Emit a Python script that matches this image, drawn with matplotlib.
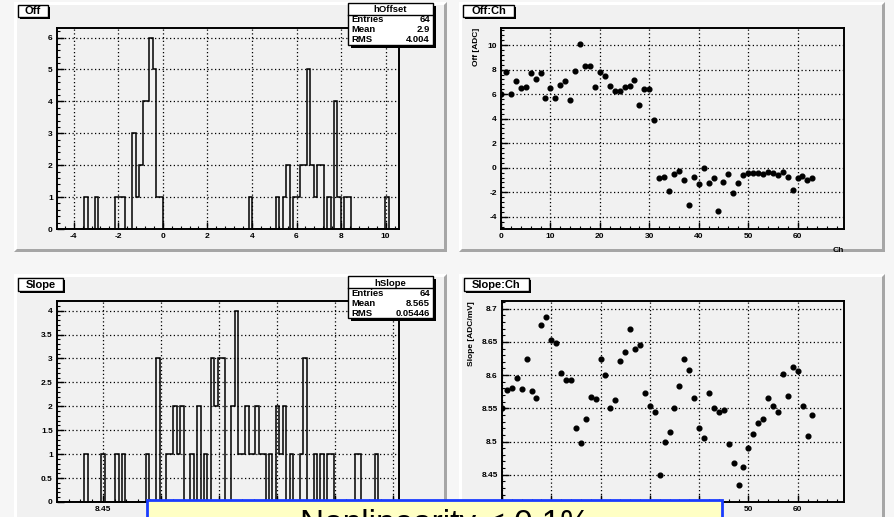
import numpy as np
import matplotlib.pyplot as plt
from matplotlib.patches import Rectangle, Polygon
from matplotlib.ticker import MultipleLocator, FuncFormatter

plt.rcParams['font.family'] = ['Liberation Sans', 'DejaVu Sans']
plt.rcParams['axes.unicode_minus'] = False

W, H = 894, 517

# hOffset: 100 bins, only the non-empty ones
off_range = (-4.75, 10.6)
off_bins = [8, 11, 17, 18, 19, 22, 23, 24, 25, 26, 27, 28, 29, 30,
            56, 64, 66, 67, 69, 70, 71, 72, 73, 74, 75, 76, 77, 79, 81, 82, 84, 85, 96]
off_counts = [1, 1, 1, 1, 1, 3, 1, 2, 4, 4, 6, 5, 1, 1,
              1, 1, 1, 2, 1, 1, 2, 2, 5, 2, 1, 2, 2, 1, 4, 1, 1, 1, 1]

# hSlope: 100 bins, only the non-empty ones
slope_range = (8.41, 8.7056)
slope_bins = [8, 13, 17, 19, 26, 29, 32, 33, 34, 35, 36, 39, 41, 43,
              45, 46, 47, 48, 51, 52, 53, 54, 55, 56, 57, 58, 59, 60, 62,
              64, 65, 66, 68, 71, 72, 75, 77, 79, 80, 87, 88, 93]
slope_counts = [1, 1, 1, 1, 1, 3, 1, 1, 2, 1, 2, 1, 2, 1,
                3, 2, 3, 3, 2, 4, 1, 1, 2, 1, 1, 2, 1, 1, 1,
                2, 1, 2, 1, 1, 3, 1, 1, 1, 1, 1, 1, 1]

channels = np.arange(64)
offset = [6.0, 7.83, 6.0, 7.07, 6.52, 6.6, 7.72, 7.2, 7.72, 5.65,
          6.52, 5.65, 6.79, 7.07, 5.54, 7.9, 10.08, 8.34, 8.29, 6.58,
          7.8, 7.5, 6.68, 6.28, 6.22, 6.58, 6.68, 7.17, 5.1, 6.41,
          6.44, 3.91, -0.82, -0.73, -1.93, -0.52, -0.24, -1.0, -3.07, -0.73,
          -1.3, -0.05, -1.28, -0.87, -3.56, -1.14, -0.54, -2.07, -1.28, -0.6,
          -0.46, -0.46, -0.43, -0.52, -0.35, -0.46, -0.6, -0.38, -0.79, -1.82,
          -0.82, -0.68, -1.0, -0.87]
slope = [8.550, 8.577, 8.581, 8.595, 8.579, 8.624, 8.576, 8.565, 8.675, 8.687,
         8.653, 8.649, 8.603, 8.592, 8.592, 8.520, 8.498, 8.534, 8.567, 8.564,
         8.624, 8.600, 8.550, 8.562, 8.622, 8.635, 8.670, 8.639, 8.646, 8.573,
         8.554, 8.544, 8.450, 8.499, 8.514, 8.550, 8.584, 8.625, 8.608, 8.566,
         8.520, 8.506, 8.573, 8.551, 8.545, 8.548, 8.497, 8.468, 8.435, 8.462,
         8.490, 8.512, 8.528, 8.534, 8.565, 8.554, 8.545, 8.601, 8.569, 8.612,
         8.606, 8.553, 8.509, 8.540]

CANVAS = '#f6f6f6'
PAD = '#f1f1f1'


def rect(x0, y0, x1, y1):
    return [x0 / W, 1 - y1 / H, (x1 - x0) / W, (y1 - y0) / H]


def hist_counts(bins, counts):
    c = np.zeros(100)
    c[bins] = counts
    return c


def draw_pad(ax, x0, y0, x1, y1, b=3):
    ax.add_patch(Rectangle((x0, y0), x1 - x0, y1 - y0, fc=PAD, ec='none'))
    ax.add_patch(Polygon([(x0, y0), (x1, y0), (x1 - b, y0 + b), (x0 + b, y0 + b),
                          (x0 + b, y1 - b), (x0, y1)], fc='white', ec='none'))
    ax.add_patch(Polygon([(x1, y0), (x1, y1), (x0, y1), (x0 + b, y1 - b),
                          (x1 - b, y1 - b), (x1 - b, y0 + b)], fc='#a6a6a6', ec='none'))


def shadow_box(ax, x0, y0, x1, y1, s=2):
    ax.add_patch(Rectangle((x0 + s, y0 + s), x1 - x0, y1 - y0, fc='black', ec='none'))
    ax.add_patch(Rectangle((x0, y0), x1 - x0, y1 - y0, fc='white', ec='black', lw=1))


def title_box(ax, x0, y0, x1, y1, text):
    shadow_box(ax, x0, y0, x1, y1)
    ax.text((x0 + x1) / 2, (y0 + y1) / 2 + 0.5, text, ha='center', va='center',
            fontsize=8, fontweight='bold')


def stats_box(ax, x0, y0, name, rows):
    x1, y1 = x0 + 85, y0 + 42
    shadow_box(ax, x0, y0, x1, y1, s=3)
    ax.text((x0 + x1) / 2, y0 + 7, name, ha='center', va='center', fontsize=6.8, fontweight='bold')
    ax.plot([x0, x1], [y0 + 11.5, y0 + 11.5], color='black', lw=1)
    for i, (lab, val) in enumerate(rows):
        yy = y0 + 17 + 10 * i
        ax.text(x0 + 3, yy, lab, ha='left', va='center', fontsize=6.8, fontweight='bold')
        ax.text(x1 - 3, yy, val, ha='right', va='center', fontsize=6.8, fontweight='bold')


def style(ax, xmaj, xmin, ymaj, ymin, xshow=None):
    ax.set_facecolor(PAD)
    for s in ax.spines.values():
        s.set_linewidth(1.4)
    ax.xaxis.set_major_locator(MultipleLocator(xmaj))
    ax.xaxis.set_minor_locator(MultipleLocator(xmin))
    ax.yaxis.set_major_locator(MultipleLocator(ymaj))
    ax.yaxis.set_minor_locator(MultipleLocator(ymin))
    fmt = FuncFormatter(lambda v, p: '%g' % round(v, 6))
    # labels hidden under the note box are left out
    xfmt = fmt if xshow is None else FuncFormatter(
        lambda v, p: '%g' % round(v, 6) if xshow(v) else '')
    ax.xaxis.set_major_formatter(xfmt)
    ax.yaxis.set_major_formatter(fmt)
    ax.tick_params(which='major', direction='in', length=5, width=1, labelsize=6, pad=3)
    ax.tick_params(which='minor', direction='in', length=2.5, width=0.8)
    for lab in ax.get_xticklabels() + ax.get_yticklabels():
        lab.set_fontweight('bold')
    ax.grid(True, which='major', color='black', lw=0.9, ls=(0, (1, 2)))
    ax.set_axisbelow(False)


fig = plt.figure(figsize=(W / 100, H / 100), dpi=100, facecolor=CANVAS)

bg = fig.add_axes([0, 0, 1, 1])
bg.set_zorder(-5)
bg.set_xlim(0, W)
bg.set_ylim(H, 0)
bg.axis('off')
for p in [(14, 2, 447, 252), (459, 2, 885, 252), (14, 274, 447, 524), (459, 274, 885, 524)]:
    draw_pad(bg, *p)

# Off histogram
ax1 = fig.add_axes(rect(57, 28, 399, 229))
ax1.stairs(hist_counts(off_bins, off_counts), np.linspace(*off_range, 101), color='black', lw=1.1)
ax1.set_xlim(*off_range)
ax1.set_ylim(0, 6.3)
style(ax1, 2, 0.4, 1, 0.2)

# Off vs channel
ax2 = fig.add_axes(rect(501, 28, 844, 229))
ax2.plot(channels, offset, 'o', color='black', ms=3.4)
ax2.set_xlim(0, 69.4)
ax2.set_ylim(-5.0, 11.4)
style(ax2, 10, 2, 2, 0.4)
ax2.set_xlabel('Ch', loc='right', fontsize=6, fontweight='bold', labelpad=5)
ax2.set_ylabel('Off [ADC]', loc='top', fontsize=6, fontweight='bold', labelpad=5)

# Slope histogram
ax3 = fig.add_axes(rect(57, 301, 399, 502))
ax3.stairs(hist_counts(slope_bins, slope_counts), np.linspace(*slope_range, 101), color='black', lw=1.1)
ax3.set_xlim(*slope_range)
ax3.set_ylim(0, 4.2)
style(ax3, 0.05, 0.01, 0.5, 0.1, xshow=lambda v: v < 8.47)

# Slope vs channel
ax4 = fig.add_axes(rect(502, 301, 844, 502))
ax4.plot(channels, slope, 'o', color='black', ms=3.4)
ax4.set_xlim(0, 69.4)
ax4.set_ylim(8.409, 8.7116)
style(ax4, 10, 2, 0.05, 0.01, xshow=lambda v: v > 45)
ax4.set_xlabel('Ch', loc='right', fontsize=6, fontweight='bold', labelpad=5)
ax4.set_ylabel('Slope [ADC/mV]', loc='top', fontsize=6, fontweight='bold', labelpad=5)

# overlays: titles, stats boxes, the note
ov = fig.add_axes([0, 0, 1, 1])
ov.set_zorder(10)
ov.set_xlim(0, W)
ov.set_ylim(H, 0)
ov.axis('off')
ov.patch.set_alpha(0)

title_box(ov, 18, 5, 48, 17, 'Off')
title_box(ov, 463, 5, 514, 17, 'Off:Ch')
title_box(ov, 18, 278, 63, 291, 'Slope')
title_box(ov, 464, 278, 529, 291, 'Slope:Ch')

stats_box(ov, 348, 3, 'hOffset', [('Entries', '64'), ('Mean', '2.9'), ('RMS', '4.004')])
stats_box(ov, 348, 276, 'hSlope', [('Entries', '64'), ('Mean', '8.565'), ('RMS', '0.05446')])

ov.add_patch(Rectangle((147, 500), 575, 40, fc='#ffffc4', ec='#1a3cff', lw=2))
ov.text(445, 533, 'Nonlinearity < 0.1%', ha='center', va='baseline', fontsize=24)

fig.savefig('out.png', dpi=100, facecolor=CANVAS)
